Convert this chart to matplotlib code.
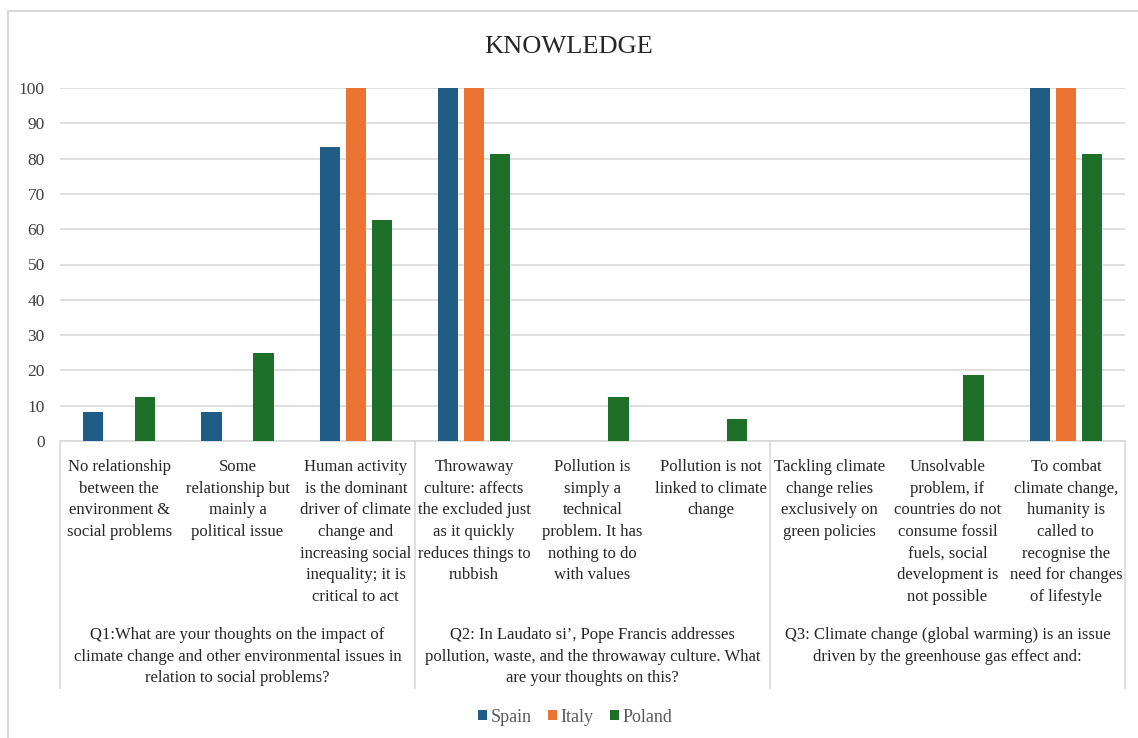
import numpy as np
import matplotlib
matplotlib.use("Agg")
import matplotlib.pyplot as plt
import matplotlib.transforms as mtransforms
from matplotlib.lines import Line2D

# answers (inner categories) and questions (outer categories)
answers = [
    "No relationship\nbetween the\nenvironment &\nsocial problems",
    "Some\nrelationship but\nmainly a\npolitical issue",
    "Human activity\nis the dominant\ndriver of climate\nchange and\nincreasing social\ninequality; it is\ncritical to act",
    "Throwaway\nculture: affects\nthe excluded just\nas it quickly\nreduces things to\nrubbish",
    "Pollution is\nsimply a\ntechnical\nproblem. It has\nnothing to do\nwith values",
    "Pollution is not\nlinked to climate\nchange",
    "Tackling climate\nchange relies\nexclusively on\ngreen policies",
    "Unsolvable\nproblem, if\ncountries do not\nconsume fossil\nfuels, social\ndevelopment is\nnot possible",
    "To combat\nclimate change,\nhumanity is\ncalled to\nrecognise the\nneed for changes\nof lifestyle",
]
questions = [
    "Q1:What are your thoughts on the impact of\nclimate change and other environmental issues in\nrelation to social problems?",
    "Q2: In Laudato si\u2019, Pope Francis addresses\npollution, waste, and the throwaway culture. What\nare your thoughts on this?",
    "Q3: Climate change (global warming) is an issue\ndriven by the greenhouse gas effect and:",
]
answers_per_question = [3, 3, 3]

spain = [8.33, 8.33, 83.33, 100, 0, 0, 0, 0, 100]
italy = [0, 0, 100, 100, 0, 0, 0, 0, 100]
poland = [12.5, 25, 62.5, 81.25, 12.5, 6.25, 0, 18.75, 81.25]

series = ["Spain", "Italy", "Poland"]
colors = ["#1F5C86", "#EB7434", "#1E6F27"]

plt.rcParams['font.family'] = ['Liberation Serif', 'DejaVu Serif']

W, H = 1138, 738
fig = plt.figure(figsize=(W / 100, H / 100), dpi=100)
ax = fig.add_axes([60 / W, 1 - 441 / H, (1125 - 60) / W, (441 - 88) / H])

x = np.arange(len(answers))
bw = 0.17
offs = [-0.22, 0, 0.22]
for vals, off, c, name in zip([spain, italy, poland], offs, colors, series):
    ax.bar(x + off, vals, bw, color=c, label=name, zorder=3)

ax.set_xlim(-0.5, len(answers) - 0.5)
ax.set_ylim(0, 100)
ax.set_yticks(range(0, 101, 10))
ax.tick_params(axis='y', length=0, pad=11, labelsize=12.5, labelcolor='#404040')
ax.set_xticks([])
ax.yaxis.grid(True, color='#d9d9d9', linewidth=1.2, zorder=0)
for s in ['top', 'right', 'left']:
    ax.spines[s].set_visible(False)
ax.spines['bottom'].set_color('#d9d9d9')
ax.spines['bottom'].set_linewidth(1.2)

# multi-level category labels
tr = mtransforms.blended_transform_factory(ax.transData, fig.transFigure)
for i, lab in enumerate(answers):
    ax.text(i, 1 - 459 / H, lab, transform=tr, ha='center', va='top',
            fontsize=12, color='#262626', linespacing=1.47)

start = 0
for q, n in zip(questions, answers_per_question):
    mid = start + (n - 1) / 2
    ax.text(mid, 1 - 627 / H, q, transform=tr, ha='center', va='top',
            fontsize=12, color='#262626', linespacing=1.47)
    start += n

bounds = np.cumsum([0] + answers_per_question) - 0.5
for b in bounds:
    fig.add_artist(Line2D([b, b], [1 - 441 / H, 1 - 688 / H], transform=tr,
                          color='#d9d9d9', linewidth=1.2))

fig.suptitle("KNOWLEDGE", y=1 - 47 / H, va='center', fontsize=19, color='#262626')

leg = fig.legend(loc='center', bbox_to_anchor=(575 / W, 1 - 717 / H), ncol=3,
                 frameon=False, fontsize=13, handlelength=0.5, handleheight=0.5,
                 handletextpad=0.2, columnspacing=0.9)
for t in leg.get_texts():
    t.set_color('#595959')

# chart border (only top and left edges fall inside the picture)
fig.add_artist(Line2D([8 / W, 8 / W], [1 - 11 / H, 0], transform=fig.transFigure,
                      color='#d9d9d9', linewidth=1.5))
fig.add_artist(Line2D([8 / W, 1], [1 - 11 / H, 1 - 11 / H], transform=fig.transFigure,
                      color='#d9d9d9', linewidth=1.5))

fig.savefig("out.png", dpi=100)
